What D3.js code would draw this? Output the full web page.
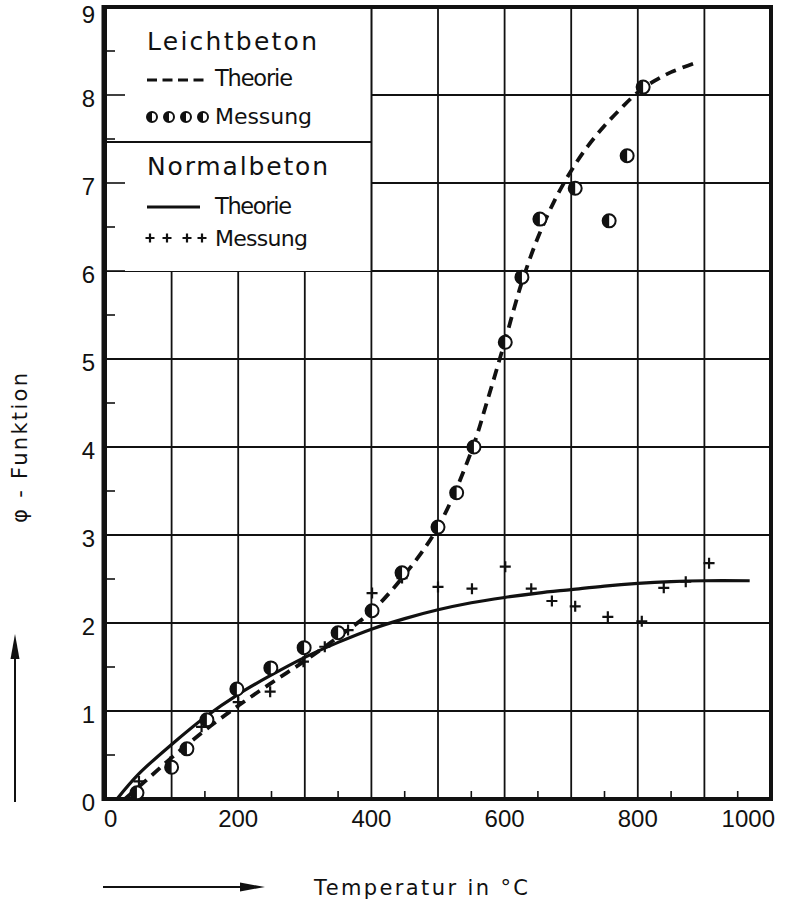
<!DOCTYPE html>
<html>
<head>
<meta charset="utf-8">
<script src="https://cdn.jsdelivr.net/npm/d3@7"></script>
<style>
body { margin: 0; background: #fff; }
text { fill: #111; }
</style>
</head>
<body>
<div id="chart"></div>
<script>
// tick values
var tempTicks = [0, 200, 400, 600, 800, 1000];
var phiTicks = [0, 1, 2, 3, 4, 5, 6, 7, 8, 9];

// Leichtbeton, theory (dashed) [T, phi]
var lbTheorie = [[30, 0], [60, 0.2], [100, 0.47], [150, 0.78], [200, 1.06], [250, 1.32],
                 [300, 1.57], [350, 1.84], [400, 2.13], [450, 2.55], [500, 3.09],
                 [550, 3.95], [575, 4.55], [600, 5.19], [625, 5.85], [650, 6.38],
                 [675, 6.8], [700, 7.14], [725, 7.42], [750, 7.65], [775, 7.85],
                 [800, 8.03], [825, 8.16], [850, 8.26], [885, 8.36]];
// Leichtbeton, measured (half filled circles)
var lbMessung = [[48, 0.07], [100, 0.36], [123, 0.57], [153, 0.9], [198, 1.25], [249, 1.49],
                 [299, 1.72], [350, 1.89], [401, 2.14], [446, 2.57], [500, 3.09],
                 [528, 3.48], [554, 4.0], [601, 5.19], [626, 5.93], [653, 6.59],
                 [706, 6.94], [757, 6.57], [784, 7.31], [808, 8.09]];
// Normalbeton, theory (solid)
var nbTheorie = [[18, 0], [50, 0.28], [100, 0.62], [150, 0.93], [200, 1.19], [250, 1.41],
                 [300, 1.61], [350, 1.78], [400, 1.93], [450, 2.05], [500, 2.15],
                 [550, 2.23], [600, 2.29], [650, 2.34], [700, 2.38], [750, 2.42],
                 [800, 2.45], [850, 2.47], [900, 2.48], [968, 2.48]];
// Normalbeton, measured (crosses)
var nbMessung = [[51, 0.2], [98, 0.42], [145, 0.82], [200, 1.1], [248, 1.22], [298, 1.56],
                 [330, 1.73], [365, 1.92], [401, 2.34], [446, 2.51], [500, 2.41],
                 [551, 2.39], [601, 2.64], [640, 2.39], [671, 2.25], [706, 2.19],
                 [755, 2.07], [806, 2.02], [839, 2.4], [872, 2.47], [907, 2.68]];

function init(){
	var w = 786;
	var h = 904;

	var xScale = d3.scaleLinear()
					.domain([0, 1000])
					.range([105, 771]);

	var yScale = d3.scaleLinear()
					.domain([0, 9])
					.range([799, 7]);

	var svg = d3.select("#chart")
				.append("svg")
				.attr("width", w)
				.attr("height", h)
				.style("font-family", "'DejaVu Sans', sans-serif");

	// grid
	svg.selectAll("line.vgrid")
		.data(d3.range(100, 1000, 100))
		.enter()
		.append("line")
		.attr("class", "vgrid")
		.attr("x1", function(d){ return xScale(d); })
		.attr("x2", function(d){ return xScale(d); })
		.attr("y1", yScale(0))
		.attr("y2", yScale(9))
		.attr("stroke", "#111")
		.attr("stroke-width", 1.8);

	svg.selectAll("line.hgrid")
		.data(d3.range(1, 9))
		.enter()
		.append("line")
		.attr("class", "hgrid")
		.attr("x1", xScale(0))
		.attr("x2", xScale(1000))
		.attr("y1", function(d){ return yScale(d); })
		.attr("y2", function(d){ return yScale(d); })
		.attr("stroke", "#111")
		.attr("stroke-width", 1.8);

	// legend box covers the grid in the upper left
	svg.append("rect")
		.attr("x", xScale(0))
		.attr("y", yScale(9))
		.attr("width", xScale(400) - xScale(0))
		.attr("height", yScale(6) - yScale(9))
		.attr("fill", "#fff");

	svg.append("line")
		.attr("x1", xScale(400)).attr("x2", xScale(400))
		.attr("y1", yScale(9)).attr("y2", yScale(6))
		.attr("stroke", "#111").attr("stroke-width", 1.8);

	svg.append("line")
		.attr("x1", xScale(0)).attr("x2", xScale(400))
		.attr("y1", 142).attr("y2", 142)
		.attr("stroke", "#111").attr("stroke-width", 2);

	// small ticks on the left and bottom axis
	svg.selectAll("line.ytick")
		.data(d3.range(0.5, 9, 0.5))
		.enter()
		.append("line")
		.attr("class", "ytick")
		.attr("x1", xScale(0))
		.attr("x2", function(d){ return xScale(0) + (d % 1 == 0 ? 20 : 10); })
		.attr("y1", function(d){ return yScale(d); })
		.attr("y2", function(d){ return yScale(d); })
		.attr("stroke", "#111")
		.attr("stroke-width", 1.6);

	svg.selectAll("line.xtick")
		.data(d3.range(50, 1000, 100))
		.enter()
		.append("line")
		.attr("class", "xtick")
		.attr("x1", function(d){ return xScale(d); })
		.attr("x2", function(d){ return xScale(d); })
		.attr("y1", yScale(0))
		.attr("y2", yScale(0) - 8)
		.attr("stroke", "#111")
		.attr("stroke-width", 1.6);

	// frame
	svg.append("rect")
		.attr("x", xScale(0))
		.attr("y", yScale(9))
		.attr("width", xScale(1000) - xScale(0))
		.attr("height", yScale(0) - yScale(9))
		.attr("fill", "none")
		.attr("stroke", "#111")
		.attr("stroke-width", 4);

	svg.append("line")
		.attr("x1", xScale(0) - 1).attr("x2", xScale(0) - 1)
		.attr("y1", yScale(9) - 2).attr("y2", yScale(0) + 2)
		.attr("stroke", "#111").attr("stroke-width", 5);

	// tick labels
	svg.selectAll("text.ylabel")
		.data(phiTicks)
		.enter()
		.append("text")
		.attr("class", "ylabel")
		.text(function(d){ return d; })
		.attr("x", 95)
		.attr("y", function(d){ return Math.max(yScale(d) + 12, 23); })
		.attr("text-anchor", "end")
		.style("font-family", "'Liberation Sans', sans-serif")
		.attr("font-size", "24");

	svg.selectAll("text.xlabel")
		.data(tempTicks)
		.enter()
		.append("text")
		.attr("class", "xlabel")
		.text(function(d){ return d; })
		.attr("x", function(d){
			if(d == 0){
				return xScale(d) - 1;
			}else if(d == 1000){
				return xScale(d) + 4;
			}
			return xScale(d);
		})
		.attr("y", 827)
		.attr("text-anchor", function(d){
			if(d == 0){
				return "start";
			}else if(d == 1000){
				return "end";
			}
			return "middle";
		})
		.style("font-family", "'Liberation Sans', sans-serif")
		.attr("font-size", "24");

	// curves
	var line = d3.line()
		.x(function(d){ return xScale(d[0]); })
		.y(function(d){ return yScale(d[1]); })
		.curve(d3.curveCatmullRom);

	svg.append("path")
		.datum(nbTheorie)
		.attr("d", line)
		.attr("fill", "none")
		.attr("stroke", "#111")
		.attr("stroke-width", 3.2);

	svg.append("path")
		.datum(lbTheorie)
		.attr("d", line)
		.attr("fill", "none")
		.attr("stroke", "#111")
		.attr("stroke-width", 3.8)
		.attr("stroke-dasharray", "11,7");

	// markers
	var halfArc = d3.arc()
		.innerRadius(0)
		.startAngle(Math.PI)
		.endAngle(2 * Math.PI);

	function halfCircle(sel, r){
		sel.append("circle")
			.attr("r", r)
			.attr("fill", "#fff")
			.attr("stroke", "#111")
			.attr("stroke-width", 2);
		sel.append("path")
			.attr("d", halfArc.outerRadius(r)())
			.attr("fill", "#111");
	}

	function cross(sel, s){
		sel.append("path")
			.attr("d", "M" + (-s) + ",0H" + s + "M0," + (-s) + "V" + s)
			.attr("stroke", "#111")
			.attr("stroke-width", 2.2);
	}

	svg.selectAll("g.nb")
		.data(nbMessung)
		.enter()
		.append("g")
		.attr("class", "nb")
		.attr("transform", function(d){
			return "translate(" + xScale(d[0]) + "," + yScale(d[1]) + ")";
		})
		.call(cross, 5.5);

	svg.selectAll("g.lb")
		.data(lbMessung)
		.enter()
		.append("g")
		.attr("class", "lb")
		.attr("transform", function(d){
			return "translate(" + xScale(d[0]) + "," + yScale(d[1]) + ")";
		})
		.call(halfCircle, 6.5);

	// legend
	var legend = svg.append("g");

	legend.append("text").text("Leichtbeton")
		.attr("x", 147).attr("y", 50)
		.attr("font-size", "25")
		.attr("textLength", 170).attr("lengthAdjust", "spacing");
	legend.append("line")
		.attr("x1", 147).attr("x2", 205)
		.attr("y1", 80).attr("y2", 80)
		.attr("stroke", "#111").attr("stroke-width", 2.8)
		.attr("stroke-dasharray", "10,5.5");
	legend.append("text").text("Theorie")
		.attr("x", 215).attr("y", 86)
		.attr("font-size", "22.5")
		.attr("textLength", 78).attr("lengthAdjust", "spacing");
	legend.selectAll("g.lbkey")
		.data([152, 169, 186, 203])
		.enter()
		.append("g")
		.attr("class", "lbkey")
		.attr("transform", function(d){ return "translate(" + d + ",117)"; })
		.call(halfCircle, 5);
	legend.append("text").text("Messung")
		.attr("x", 215).attr("y", 124)
		.attr("font-size", "22")
		.attr("textLength", 97).attr("lengthAdjust", "spacing");

	legend.append("text").text("Normalbeton")
		.attr("x", 147).attr("y", 175)
		.attr("font-size", "25")
		.attr("textLength", 181).attr("lengthAdjust", "spacing");
	legend.append("line")
		.attr("x1", 147).attr("x2", 200)
		.attr("y1", 207).attr("y2", 207)
		.attr("stroke", "#111").attr("stroke-width", 2.8);
	legend.append("text").text("Theorie")
		.attr("x", 215).attr("y", 214)
		.attr("font-size", "22.5")
		.attr("textLength", 77).attr("lengthAdjust", "spacing");
	legend.selectAll("g.nbkey")
		.data([150, 167, 187, 202])
		.enter()
		.append("g")
		.attr("class", "nbkey")
		.attr("transform", function(d){ return "translate(" + d + ",238)"; })
		.call(cross, 4.5);
	legend.append("text").text("Messung")
		.attr("x", 215).attr("y", 246)
		.attr("font-size", "22")
		.attr("textLength", 93).attr("lengthAdjust", "spacing");

	// axis titles with arrows
	svg.append("text").text("Temperatur  in  °C")
		.attr("x", 314).attr("y", 895)
		.attr("font-size", "21")
		.attr("textLength", 214).attr("lengthAdjust", "spacing");
	svg.append("line")
		.attr("x1", 103).attr("x2", 250)
		.attr("y1", 887).attr("y2", 887)
		.attr("stroke", "#111").attr("stroke-width", 2);
	svg.append("path")
		.attr("d", "M265,887L240,882.5L240,891.5Z")
		.attr("fill", "#111");

	svg.append("text").text("φ  -  Funktion")
		.attr("transform", "translate(27,448) rotate(-90)")
		.attr("text-anchor", "middle")
		.attr("font-size", "21")
		.attr("textLength", 150).attr("lengthAdjust", "spacing");
	svg.append("line")
		.attr("x1", 15).attr("x2", 15)
		.attr("y1", 802).attr("y2", 650)
		.attr("stroke", "#111").attr("stroke-width", 2);
	svg.append("path")
		.attr("d", "M15,634L10.5,659L19.5,659Z")
		.attr("fill", "#111");
}

window.onload = init;
</script>
</body>
</html>
